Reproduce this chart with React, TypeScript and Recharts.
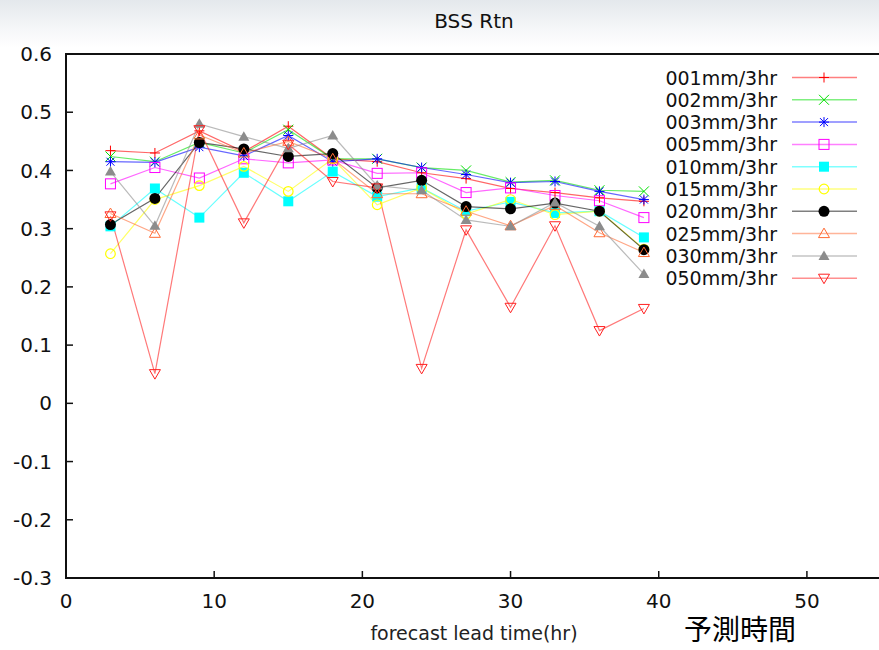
import { LineChart, Line, XAxis, YAxis, Legend, ReferenceArea } from 'recharts';

// forecast lead time (hr)
const LEAD_TIMES = [3, 6, 9, 12, 15, 18, 21, 24, 27, 30, 33, 36, 39];

// BSS per threshold
const S001 = [0.434, 0.430, 0.468, 0.432, 0.476, 0.420, 0.415, 0.396, 0.386, 0.369, 0.362, 0.353, 0.347];
const S002 = [0.424, 0.415, 0.448, 0.430, 0.470, 0.420, 0.420, 0.405, 0.400, 0.380, 0.383, 0.366, 0.364];
const S003 = [0.415, 0.414, 0.440, 0.425, 0.460, 0.415, 0.420, 0.405, 0.393, 0.379, 0.381, 0.364, 0.350];
const S005 = [0.377, 0.405, 0.387, 0.420, 0.413, 0.418, 0.395, 0.396, 0.362, 0.370, 0.357, 0.348, 0.319];
const S010 = [0.304, 0.369, 0.319, 0.396, 0.347, 0.398, 0.355, 0.370, 0.330, 0.346, 0.327, 0.330, 0.285];
const S015 = [0.257, 0.350, 0.374, 0.407, 0.364, 0.420, 0.341, 0.370, 0.325, 0.350, 0.324, 0.330, 0.265];
const S020 = [0.307, 0.352, 0.448, 0.437, 0.424, 0.429, 0.370, 0.383, 0.338, 0.334, 0.344, 0.330, 0.264];
const S025 = [0.326, 0.292, 0.461, 0.430, 0.450, 0.420, 0.360, 0.360, 0.330, 0.305, 0.340, 0.293, 0.259];
const S030 = [0.398, 0.305, 0.480, 0.458, 0.438, 0.460, 0.374, 0.366, 0.315, 0.304, 0.345, 0.304, 0.222];
const S050 = [0.322, 0.051, 0.470, 0.310, 0.445, 0.381, 0.370, 0.060, 0.298, 0.165, 0.305, 0.125, 0.163];

const X_TICKS = [0, 10, 20, 30, 40, 50];
const Y_TICKS = [-0.3, -0.2, -0.1, 0, 0.1, 0.2, 0.3, 0.4, 0.5, 0.6];

const SERIES = [
  { key: 's001', name: '001mm/3hr', values: S001, color: '#ff0000', marker: 'plus' },
  { key: 's002', name: '002mm/3hr', values: S002, color: '#00e000', marker: 'cross' },
  { key: 's003', name: '003mm/3hr', values: S003, color: '#0000ff', marker: 'star' },
  { key: 's005', name: '005mm/3hr', values: S005, color: '#ff00ff', marker: 'square' },
  { key: 's010', name: '010mm/3hr', values: S010, color: '#00ffff', marker: 'squareFill' },
  { key: 's015', name: '015mm/3hr', values: S015, color: '#ffff00', marker: 'circle' },
  { key: 's020', name: '020mm/3hr', values: S020, color: '#000000', marker: 'circleFill' },
  { key: 's025', name: '025mm/3hr', values: S025, color: '#ff6a33', marker: 'tri' },
  { key: 's030', name: '030mm/3hr', values: S030, color: '#8c8c8c', marker: 'triFill' },
  { key: 's050', name: '050mm/3hr', values: S050, color: '#ff2020', marker: 'triDown' },
];

const data = LEAD_TIMES.map((t, i) => {
  const row: any = { t };
  SERIES.forEach(s => { row[s.key] = s.values[i]; });
  return row;
});

const FONT = '"DejaVu Sans", sans-serif';

function Marker({ cx, cy, shape, color }: { cx: number; cy: number; shape: string; color: string }) {
  const s = 5;
  switch (shape) {
    case 'plus':
      return <path d={`M${cx - s},${cy}H${cx + s}M${cx},${cy - s}V${cy + s}`} stroke={color} strokeWidth={1} fill="none" />;
    case 'cross':
      return <path d={`M${cx - s},${cy - s}L${cx + s},${cy + s}M${cx - s},${cy + s}L${cx + s},${cy - s}`} stroke={color} strokeWidth={1} fill="none" />;
    case 'star':
      return <path d={`M${cx - s},${cy}H${cx + s}M${cx},${cy - s}V${cy + s}M${cx - 4},${cy - 4}L${cx + 4},${cy + 4}M${cx - 4},${cy + 4}L${cx + 4},${cy - 4}`} stroke={color} strokeWidth={1} fill="none" />;
    case 'square':
      return <rect x={cx - s} y={cy - s} width={2 * s} height={2 * s} stroke={color} strokeWidth={1} fill="none" />;
    case 'squareFill':
      return <rect x={cx - s} y={cy - s} width={2 * s} height={2 * s} fill={color} />;
    case 'circle':
      return <circle cx={cx} cy={cy} r={4.8} stroke={color} strokeWidth={1.2} fill="none" />;
    case 'circleFill':
      return <circle cx={cx} cy={cy} r={5.5} fill={color} />;
    case 'tri':
      return <path d={`M${cx},${cy - 5.5}L${cx + 5.5},${cy + 4}L${cx - 5.5},${cy + 4}Z`} stroke={color} strokeWidth={1} fill="none" />;
    case 'triFill':
      return <path d={`M${cx},${cy - 5.5}L${cx + 5.5},${cy + 4}L${cx - 5.5},${cy + 4}Z`} fill={color} />;
    case 'triDown':
      return <path d={`M${cx},${cy + 5.5}L${cx + 5.5},${cy - 4}L${cx - 5.5},${cy - 4}Z`} stroke={color} strokeWidth={1} fill="none" />;
    default:
      return null;
  }
}

function LegendBox() {
  return (
    <svg width={230} height={230} style={{ display: 'block' }}>
      {SERIES.map((s, i) => {
        const y = 15.5 + i * 22.3;
        return (
          <g key={s.key}>
            <text x={137} y={y} textAnchor="end" dominantBaseline="central" fontFamily={FONT} fontSize={19} fill="#111">{s.name}</text>
            <line x1={152} x2={217} y1={y} y2={y} stroke={s.color} strokeOpacity={0.5} strokeWidth={1.5} />
            <Marker cx={184} cy={y} shape={s.marker} color={s.color} />
          </g>
        );
      })}
    </svg>
  );
}

const fmt = (v: number) => String(Math.round(v * 10) / 10);

export default function App() {
  return (
    <div style={{ position: 'absolute', left: 0, top: 0, width: 879, height: 650, overflow: 'hidden', background: 'linear-gradient(#e4e8ec 0px, #f6f7f9 30px, #ffffff 48px)' }}>
      <div style={{ position: 'absolute', left: 374, top: 10, width: 200, textAlign: 'center', fontFamily: FONT, fontSize: 20, lineHeight: '22px', color: '#111' }}>BSS Rtn</div>
      <LineChart width={890} height={650} data={data} margin={{ top: 54, right: 0, bottom: 0, left: 0 }} style={{ position: 'absolute', left: 0, top: 0 }}>
        <XAxis dataKey="t" type="number" domain={[0, 55]} ticks={X_TICKS} allowDataOverflow height={72}
          stroke="#111" strokeWidth={1.5} tickSize={-7} tickMargin={23} tick={{ fill: '#111', fontFamily: FONT, fontSize: 20 }} />
        <XAxis xAxisId="top" orientation="top" dataKey="t" type="number" domain={[0, 55]} ticks={X_TICKS} height={0}
          stroke="#111" strokeWidth={1.5} tickSize={-7} tickFormatter={() => ''} />
        <YAxis type="number" domain={[-0.3, 0.6]} ticks={Y_TICKS} width={66} allowDataOverflow
          stroke="#111" strokeWidth={1.5} tickSize={-7} tickMargin={21} tickFormatter={fmt} tick={{ fill: '#111', fontFamily: FONT, fontSize: 20 }} />
        <YAxis yAxisId="right" orientation="right" type="number" domain={[-0.3, 0.6]} ticks={Y_TICKS} width={9}
          stroke="#111" strokeWidth={1.5} tickSize={-7} tickFormatter={() => ''} />
        {/* plot frame */}
        <ReferenceArea x1={0} x2={55} y1={-0.3} y2={0.6} ifOverflow="visible" fill="#ffffff" fillOpacity={0} stroke="#111" strokeWidth={2} />
        <Legend layout="vertical" align="center" verticalAlign="middle" content={() => <LegendBox />}
          wrapperStyle={{ position: 'absolute', left: 640, top: 62, width: 230, height: 230 }} />
        {SERIES.map(s => (
          <Line key={s.key} dataKey={s.key} name={s.name} type="linear" stroke={s.color} strokeOpacity={0.6} strokeWidth={1.2}
            isAnimationActive={false} activeDot={false}
            dot={(p: any) => <Marker key={`${s.key}-${p.index}`} cx={p.cx} cy={p.cy} shape={s.marker} color={s.color} />} />
        ))}
      </LineChart>
      <div style={{ position: 'absolute', left: 324, top: 622, width: 300, textAlign: 'center', fontFamily: FONT, fontSize: 19, lineHeight: '22px', color: '#222' }}>forecast lead time(hr)</div>
      <div style={{ position: 'absolute', left: 684, top: 614, fontFamily: '"Noto Sans CJK JP", sans-serif', fontSize: 28, lineHeight: '28px', fontWeight: 400, color: '#000' }}>予測時間</div>
    </div>
  );
}
